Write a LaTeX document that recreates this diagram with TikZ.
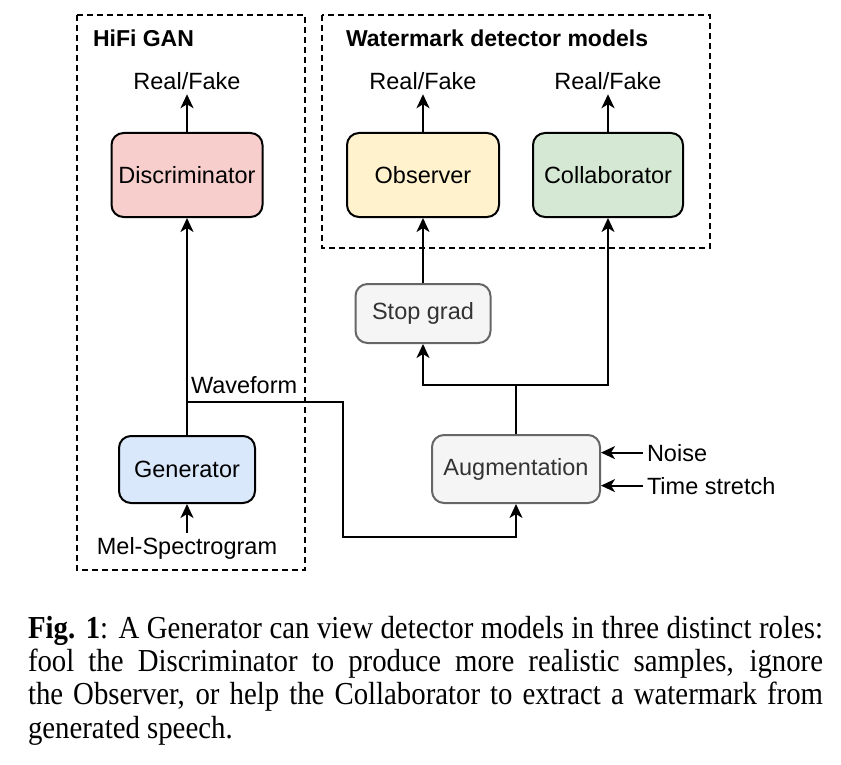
\documentclass[tikz,border=0pt]{standalone}
\usepackage{fontspec}
\setmainfont{Liberation Serif}
\newfontfamily\diagfont{Liberation Sans}
\newfontfamily\capfont[FakeStretch=0.9]{Liberation Serif}
\usetikzlibrary{arrows.meta}
\definecolor{discfill}{HTML}{F8CECC}
\definecolor{obsfill}{HTML}{FFF2CC}
\definecolor{collfill}{HTML}{D5E8D4}
\definecolor{genfill}{HTML}{DAE8FC}
\definecolor{greyfill}{HTML}{F5F5F5}
\definecolor{greyline}{HTML}{666666}
\definecolor{greytext}{HTML}{333333}
\begin{document}
\begin{tikzpicture}[x=1pt, y=-1pt, line width=2pt,
    model/.style={draw, rounded corners=12pt, inner sep=0pt, font=\diagfont\fontsize{23.5}{28}\selectfont},
    util/.style={model, draw=greyline, fill=greyfill, text=greytext},
    lbl/.style={inner sep=3pt, font=\diagfont\fontsize{23.5}{28}\selectfont},
    ttl/.style={lbl, font=\diagfont\bfseries\fontsize{23}{28}\selectfont},
    group/.style={dash pattern=on 6pt off 4pt},
    flow/.style={-{Stealth[length=14pt, width=13pt, inset=4pt]}}]
        \useasboundingbox (0,0) rectangle (841,765);
        % groups
        \draw[group] (77,15) rectangle (305,570);
        \draw[group] (322,15) rectangle (710,248);
        \node[ttl, anchor=base west] (hifi) at (89,47) {HiFi GAN};
        \node[ttl, anchor=base west] (wmark) at (342,47) {Watermark detector models};
        % nodes
        \node[model, fill=discfill, minimum width=151pt, minimum height=84pt] (disc) at (187,175) {Discriminator};
        \node[model, fill=obsfill, minimum width=152pt, minimum height=84pt] (obs) at (423,175) {Observer};
        \node[model, fill=collfill, minimum width=150pt, minimum height=84pt] (coll) at (608,175) {Collaborator};
        \node[util, minimum width=135pt, minimum height=59pt] (stop) at (423,313.5) {Stop grad};
        \node[util, minimum width=168pt, minimum height=68pt] (aug) at (516,469) {Augmentation};
        \node[model, fill=genfill, minimum width=136pt, minimum height=67pt] (gen) at (187,469.5) {Generator};
        % labels
        \node[lbl, anchor=base] (rf1) at (187,90) {Real/Fake};
        \node[lbl, anchor=base] (rf2) at (423,90) {Real/Fake};
        \node[lbl, anchor=base] (rf3) at (608,90) {Real/Fake};
        \node[lbl, anchor=base] (mel) at (187,554) {Mel-Spectrogram};
        \node[lbl, anchor=base west] (wave) at (187,393) {Waveform};
        \node[lbl, anchor=base west] (noise) at (643,461) {Noise};
        \node[lbl, anchor=base west] (tstr) at (643,494) {Time stretch};
        \coordinate (wf) at (187,402);
        \coordinate (wfa) at (343,402);
        \coordinate (wfb) at (343,537);
        \coordinate (split) at (516,385);
        % edges
        \draw[flow] (disc.north) -- (rf1.south);
        \draw[flow] (obs.north) -- (rf2.south);
        \draw[flow] (coll.north) -- (rf3.south);
        \draw[flow] (gen.north) -- (disc.south);
        \draw[flow] (mel.north) -- (gen.south);
        \draw[flow] (wf) -- (wfa) -- (wfb) -| (aug.south);
        \draw (aug.north) -- (split);
        \draw[flow] (split) -| (stop.south);
        \draw[flow] (split) -| (coll.south);
        \draw[flow] (stop.north) -- (obs.south);
        \draw[flow] (noise.west) -- (noise.west -| aug.east);
        \draw[flow] (tstr.west) -- (tstr.west -| aug.east);
        % caption
        \node[anchor=north west, inner sep=0pt, text width=795pt, align=justify, font=\capfont\fontsize{32}{33.3}\selectfont] (caption) at (27,615)
            {\textbf{Fig. 1}: A Generator can view detector models in three distinct roles:\linebreak
             fool the Discriminator to produce more realistic samples, ignore\linebreak
             the Observer, or help the Collaborator to extract a watermark from\linebreak
             generated speech.};
      \end{tikzpicture}
\end{document}
